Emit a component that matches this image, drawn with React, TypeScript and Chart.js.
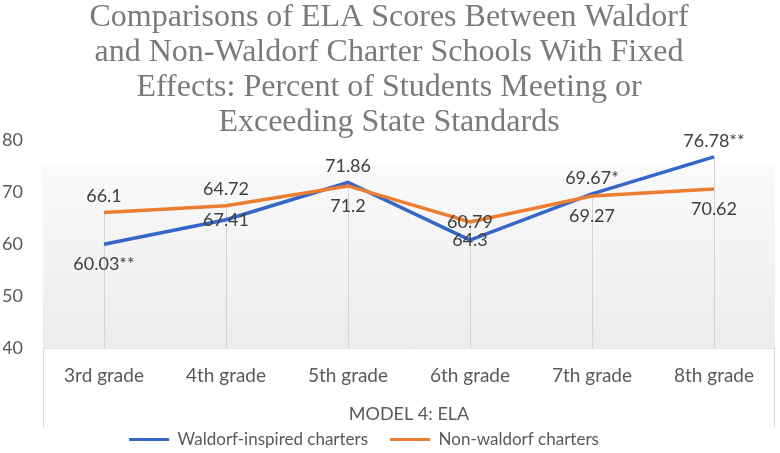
import React, { useEffect, useRef } from "react";
import { Chart, registerables } from "chart.js";

Chart.register(...registerables);

const titleLines = [
  "Comparisons of ELA Scores Between Waldorf",
  "and Non-Waldorf Charter Schools With Fixed",
  "Effects: Percent of Students Meeting or",
  "Exceeding State Standards",
];
const categories = ["3rd grade", "4th grade", "5th grade", "6th grade", "7th grade", "8th grade"];
const xAxisTitle = "MODEL 4: ELA";
const seriesNames = ["Waldorf-inspired charters", "Non-waldorf charters"];
const waldorfValues = [60.03, 64.72, 71.86, 60.79, 69.67, 76.78];
const nonWaldorfValues = [66.1, 67.41, 71.2, 64.3, 69.27, 70.62];
const waldorfLabels = ["60.03**", "67.41", "71.86", "64.3", "69.67*", "76.78**"];
const nonWaldorfLabels = ["66.1", "64.72", "71.2", "60.79", "69.27", "70.62"];
const waldorfPlacement = ["below", "center", "above", "center", "above", "above"];
const nonWaldorfPlacement = ["above", "above", "below", "center", "below", "below"];
const yMin = 40;
const yMax = 80;
const yStep = 10;

const BLUE = "#3467c9";
const ORANGE = "#ed7d31";
const FONT = "Lato, 'Open Sans', sans-serif";

const bgPlugin = {
  id: "bgPlugin",
  afterLayout(chart: any) {
    const lg = chart.legend;
    if (lg) {
      lg.left -= 25;
      lg.right -= 25;
    }
  },
  beforeDatasetsDraw(chart: any) {
    const { ctx, chartArea } = chart;
    const { left, right, top, bottom } = chartArea;
    const y0 = top + 25;
    const g = ctx.createLinearGradient(0, y0, 0, bottom);
    g.addColorStop(0, "#fafafa");
    g.addColorStop(1, "#ececec");
    ctx.save();
    ctx.fillStyle = g;
    ctx.fillRect(left, y0, right - left, bottom - y0);
    const yScale = chart.scales.y;
    const xScale = chart.scales.x;
    ctx.strokeStyle = "#d4d4d4";
    ctx.lineWidth = 1;
    categories.forEach((_, i) => {
      const v = Math.max(waldorfValues[i], nonWaldorfValues[i]);
      const x = Math.round(xScale.getPixelForValue(i)) + 0.5;
      ctx.beginPath();
      ctx.moveTo(x, yScale.getPixelForValue(v));
      ctx.lineTo(x, bottom);
      ctx.stroke();
    });
    ctx.restore();
  },
  afterDraw(chart: any) {
    const { ctx, chartArea } = chart;
    const { left, right, bottom } = chartArea;
    ctx.save();
    ctx.strokeStyle = "#d9d9d9";
    ctx.lineWidth = 1;
    ctx.beginPath();
    ctx.moveTo(Math.round(left) + 0.5, bottom);
    ctx.lineTo(Math.round(left) + 0.5, bottom + 79);
    ctx.moveTo(Math.round(right) - 0.5, bottom);
    ctx.lineTo(Math.round(right) - 0.5, bottom + 79);
    ctx.stroke();
    ctx.restore();
  },
};

const labelPlugin = {
  id: "labelPlugin",
  afterDatasetsDraw(chart: any) {
    const { ctx } = chart;
    const sets = [
      { labels: waldorfLabels, place: waldorfPlacement },
      { labels: nonWaldorfLabels, place: nonWaldorfPlacement },
    ];
    ctx.save();
    ctx.font = `18px ${FONT}`;
    ctx.fillStyle = "#404040";
    ctx.textAlign = "center";
    ctx.textBaseline = "middle";
    sets.forEach((s, di) => {
      const meta = chart.getDatasetMeta(di);
      meta.data.forEach((pt: any, i: number) => {
        const p = s.place[i];
        const dy = p === "above" ? -16 : p === "below" ? 20 : 0;
        ctx.fillText(s.labels[i], pt.x, pt.y + dy);
      });
    });
    ctx.restore();
  },
};

export default function App() {
  const ref = useRef<HTMLCanvasElement | null>(null);
  useEffect(() => {
    document.body.style.margin = "0";
    const canvas = ref.current;
    if (!canvas) return;
    const chart = new Chart(canvas, {
      type: "line",
      data: {
        labels: categories,
        datasets: [
          {
            label: seriesNames[0],
            data: waldorfValues,
            borderColor: BLUE,
            backgroundColor: BLUE,
            borderWidth: 3.5,
            pointRadius: 0,
            tension: 0,
            order: 1,
          },
          {
            label: seriesNames[1],
            data: nonWaldorfValues,
            borderColor: ORANGE,
            backgroundColor: ORANGE,
            borderWidth: 3.5,
            pointRadius: 0,
            tension: 0,
            order: 0,
          },
        ],
      },
      options: {
        responsive: false,
        animation: false,
        layout: { padding: { left: 3, right: 5, top: 0, bottom: -5 } },
        plugins: {
          title: {
            display: true,
            text: titleLines,
            color: "#7a7a7a",
            font: { family: "'Liberation Serif', 'Times New Roman', serif", size: 32, weight: "normal", lineHeight: 1.094 },
            padding: { top: 0, bottom: 0 },
          },
          legend: {
            position: "bottom",
            labels: {
              color: "#595959",
              font: { family: FONT, size: 17 },
              boxWidth: 40,
              boxHeight: 3,
              padding: 22,
              generateLabels: () =>
                seriesNames.map((n, i) => ({
                  text: n,
                  fillStyle: i === 0 ? BLUE : ORANGE,
                  strokeStyle: i === 0 ? BLUE : ORANGE,
                  lineWidth: 0,
                  hidden: false,
                  datasetIndex: i,
                  fontColor: "#595959",
                })),
            },
          },
          tooltip: { enabled: false },
        },
        scales: {
          x: {
            offset: true,
            grid: { display: false, drawTicks: false },
            border: { display: true, color: "#d9d9d9", width: 1 },
            ticks: { color: "#595959", font: { family: FONT, size: 19 }, padding: 16, maxRotation: 0 },
            title: {
              display: true,
              text: xAxisTitle,
              color: "#595959",
              font: { family: FONT, size: 18 },
              padding: { top: 0, bottom: -16 },
            },
          },
          y: {
            min: yMin,
            max: yMax,
            grid: { display: false, drawTicks: false },
            border: { display: false },
            ticks: { stepSize: yStep, color: "#595959", font: { family: FONT, size: 18 }, padding: 20 },
            afterFit: (scale: any) => {
              scale.width = 40;
            },
          },
        },
      },
      plugins: [bgPlugin, labelPlugin],
    });
    return () => chart.destroy();
  }, []);
  return <canvas ref={ref} width={780} height={453} style={{ display: "block" }} />;
}
